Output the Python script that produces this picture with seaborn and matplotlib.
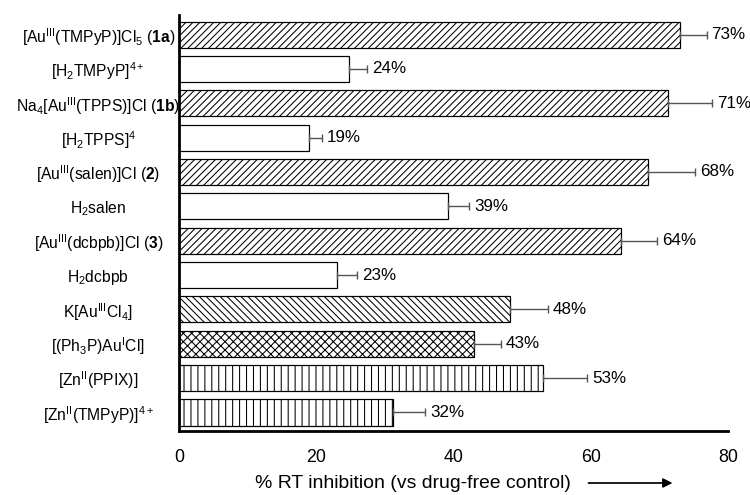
import matplotlib
matplotlib.use("Agg")
import matplotlib.pyplot as plt
import seaborn as sns
import pandas as pd

# ---- data ----
compounds = [
    r'[Au$^{\rm III}$(TMPyP)]Cl$_5$ ($\bf{1a}$)',
    r'[H$_2$TMPyP]$^{4+}$',
    r'Na$_4$[Au$^{\rm III}$(TPPS)]Cl ($\bf{1b}$)',
    r'[H$_2$TPPS]$^{4}$',
    r'[Au$^{\rm III}$(salen)]Cl ($\bf{2}$)',
    r'H$_2$salen',
    r'[Au$^{\rm III}$(dcbpb)]Cl ($\bf{3}$)',
    r'H$_2$dcbpb',
    r'K[Au$^{\rm III}$Cl$_4$]',
    r'[(Ph$_3$P)Au$^{\rm I}$Cl]',
    r'[Zn$^{\rm II}$(PPIX)]',
    r'[Zn$^{\rm II}$(TMPyP)]$^{4+}$',
]
inhibition = [73.0, 24.8, 71.2, 19.0, 68.4, 39.2, 64.4, 23.0, 48.2, 43.0, 53.0, 31.2]
errors = [3.9, 2.6, 6.5, 1.9, 6.8, 3.1, 5.3, 3.0, 5.6, 3.9, 6.5, 4.7]
pct_labels = ["73%", "24%", "71%", "19%", "68%", "39%", "64%", "23%", "48%", "43%", "53%", "32%"]
x_ticks = [0, 20, 40, 60, 80]

# ---- style ----
hatches = ['//////', '', '//////', '', '//////', '', '//////', '',
           '\\\\\\\\\\\\', 'xxxxx', '|||', '|||']

sns.set_theme(style="white")
plt.rcParams['font.family'] = ['Liberation Sans', 'DejaVu Sans']
plt.rcParams['mathtext.fontset'] = 'custom'
plt.rcParams['mathtext.rm'] = 'Liberation Sans'
plt.rcParams['mathtext.it'] = 'Liberation Sans:italic'
plt.rcParams['mathtext.bf'] = 'Liberation Sans:bold'
plt.rcParams['hatch.linewidth'] = 0.6
plt.rcParams['hatch.color'] = 'black'
plt.rcParams['text.color'] = 'black'
plt.rcParams['xtick.color'] = 'black'
plt.rcParams['ytick.color'] = 'black'

dpi = 125
fig = plt.figure(figsize=(750 / dpi, 495 / dpi), dpi=dpi)
ax = fig.add_axes([179 / 750, 1 - 431 / 495, (728 - 179) / 750, (431 - 15) / 495])

df = pd.DataFrame({"compound": compounds, "value": inhibition})
sns.barplot(data=df, x="value", y="compound", orient="h", color="white",
            edgecolor="black", linewidth=0.7, width=0.76, errorbar=None,
            saturation=1, ax=ax)
for patch, h in zip(ax.patches, hatches):
    patch.set_facecolor("white")
    patch.set_edgecolor("black")
    if h:
        patch.set_hatch(h)

ypos = list(range(len(compounds)))
ax.errorbar(inhibition, ypos, xerr=[[0] * len(errors), errors], fmt='none',
            ecolor='#555555', elinewidth=0.8, capsize=2.2, capthick=0.8, zorder=3)

for v, e, y, lab in zip(inhibition, errors, ypos, pct_labels):
    ax.text(v + e + 0.7, y, lab, ha='left', va='center', fontsize=9.8, color='black')

ax.set_xlim(0, 80)
ax.set_ylim(11.54, -0.57)
ax.set_xticks(x_ticks)
ax.set_xticklabels([str(t) for t in x_ticks], fontsize=10.2)
ax.set_yticks(ypos)
ax.set_yticklabels(compounds, fontsize=9.0)
for lab in ax.get_yticklabels():
    lab.set_horizontalalignment('center')
ax.tick_params(axis='y', length=0, pad=46.5)
ax.tick_params(axis='x', direction='out', length=3.5, width=1.3, pad=7, color='black')
ax.set_xlabel("")
ax.set_ylabel("")

for s in ['top', 'right']:
    ax.spines[s].set_visible(False)
for s in ['left', 'bottom']:
    ax.spines[s].set_linewidth(1.6)
    ax.spines[s].set_color('black')

yl = 1 - 483 / 495
fig.text(255 / 750, yl, "% RT inhibition (vs drug-free control)", ha='left', va='center',
         fontsize=11.2, color='black')
ax.annotate('', xy=(676 / 750, yl), xytext=(585 / 750, yl), xycoords='figure fraction',
            textcoords='figure fraction',
            arrowprops=dict(arrowstyle='-|>', color='black', lw=1.0, mutation_scale=11))

fig.savefig("out.png", dpi=dpi, facecolor='white')
